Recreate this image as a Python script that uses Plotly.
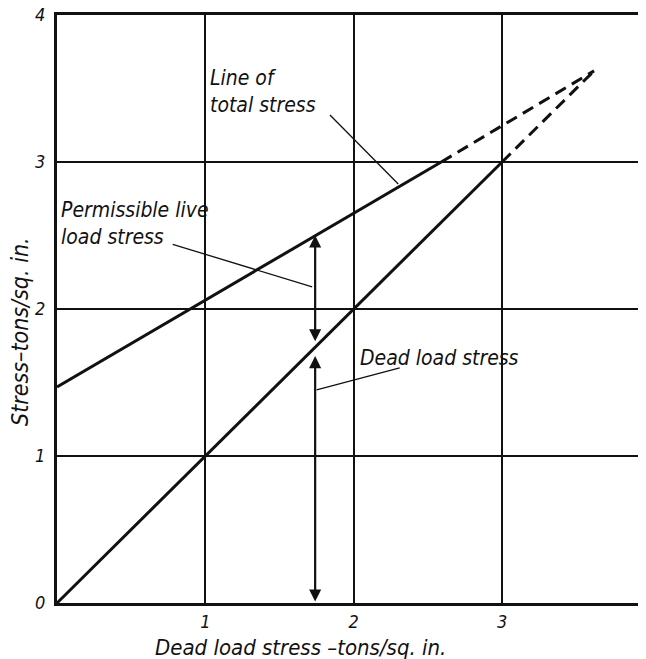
import plotly.graph_objects as go

# ---- data ----
dead_x = [0.0, 3.0]
dead_y = [0.0, 3.0]
dead_ext_x = [3.0, 3.62]
dead_ext_y = [3.0, 3.62]

total_x = [0.0, 2.59]
total_y = [1.47, 3.0]
total_ext_x = [2.59, 3.62]
total_ext_y = [3.0, 3.62]

arrow_x = 1.74
live_arrow_y = [1.77, 2.50]
dead_arrow_y = [0.0, 1.68]

x_tick_vals = [1, 2, 3, 4]
x_tick_text = ["1", "2", "3", "4"]
y_tick_vals = [0, 1, 2, 3, 4]
y_tick_text = ["0", "1", "2", "3", "4"]
grid_vals = [0, 1, 2, 3, 4]

leader_total_x = [1.84, 2.30]
leader_total_y = [3.32, 2.85]
leader_live_x = [0.78, 1.72]
leader_live_y = [2.44, 2.15]
leader_dead_x = [1.75, 2.31]
leader_dead_y = [1.45, 1.60]

FONT = "DejaVu Sans Condensed, Liberation Sans Narrow, DejaVu Sans, sans-serif"
BLACK = "#111111"

fig = go.Figure()

# main lines
fig.add_trace(go.Scatter(x=dead_x, y=dead_y, mode="lines",
                         line=dict(color=BLACK, width=3), hoverinfo="skip"))
fig.add_trace(go.Scatter(x=dead_ext_x, y=dead_ext_y, mode="lines",
                         line=dict(color=BLACK, width=3, dash="12px,7px"), hoverinfo="skip"))
fig.add_trace(go.Scatter(x=total_x, y=total_y, mode="lines",
                         line=dict(color=BLACK, width=3), hoverinfo="skip"))
fig.add_trace(go.Scatter(x=total_ext_x, y=total_ext_y, mode="lines",
                         line=dict(color=BLACK, width=3, dash="12px,7px"), hoverinfo="skip"))

# leader lines
for lx, ly in [(leader_total_x, leader_total_y), (leader_live_x, leader_live_y),
               (leader_dead_x, leader_dead_y)]:
    fig.add_trace(go.Scatter(x=lx, y=ly, mode="lines",
                             line=dict(color=BLACK, width=1.3), hoverinfo="skip"))

# double-headed arrows
for ys in [live_arrow_y, dead_arrow_y]:
    fig.add_annotation(x=arrow_x, y=ys[1], ax=arrow_x, ay=ys[0],
                       xref="x", yref="y", axref="x", ayref="y",
                       text="", showarrow=True, arrowhead=2, startarrowhead=2,
                       arrowside="end+start", arrowsize=1.1, startarrowsize=1.1,
                       arrowwidth=2.2, arrowcolor=BLACK)

# labels
labels = [
    (1.02, 3.48, "Line of<br>total stress"),
    (0.015, 2.585, "Permissible live<br>load stress"),
    (2.03, 1.67, "Dead load stress"),
]
for x, y, t in labels:
    fig.add_annotation(x=x, y=y, xref="x", yref="y", text=t, showarrow=False,
                       xanchor="left", yanchor="middle", align="left",
                       font=dict(family=FONT, size=21, color=BLACK, style="italic"))

# axis titles (placed as paper-anchored text, off-centre like the original)
fig.add_annotation(x=0.414, y=-0.0765, xref="paper", yref="paper",
                   text="Dead load stress \u2013tons/sq. in.", showarrow=False,
                   xanchor="center", yanchor="middle",
                   font=dict(family=FONT, size=22, color=BLACK, style="italic"))
fig.add_annotation(x=-0.0628, y=0.461, xref="paper", yref="paper",
                   text="Stress\u2013tons/sq. in.", showarrow=False, textangle=-90,
                   xanchor="center", yanchor="middle",
                   font=dict(family=FONT, size=23, color=BLACK, style="italic"))

axis_common = dict(
    showgrid=True, gridcolor=BLACK, gridwidth=2,
    zeroline=False, showline=True, linecolor=BLACK, linewidth=3,
    ticks="", automargin=False, ticklabeloverflow="allow",
    tickfont=dict(family=FONT, size=18, color=BLACK, style="italic"),
)

fig.update_xaxes(range=[0, 3.97], mirror=True, ticklabelstandoff=0,
                 tickvals=x_tick_vals, ticktext=x_tick_text, **axis_common)
fig.update_yaxes(range=[0, 4], mirror=False, ticklabelstandoff=5,
                 tickvals=y_tick_vals, ticktext=y_tick_text, **axis_common)

# the page body has an 8px default margin; size the figure so the plot
# frame lands where the original's does within the 646x659 window
fig.update_layout(
    width=638, height=651,
    margin=dict(l=49, r=0, t=7, b=56, autoexpand=False),
    paper_bgcolor="white", plot_bgcolor="white",
    showlegend=False,
)

fig.write_html("out.html")
